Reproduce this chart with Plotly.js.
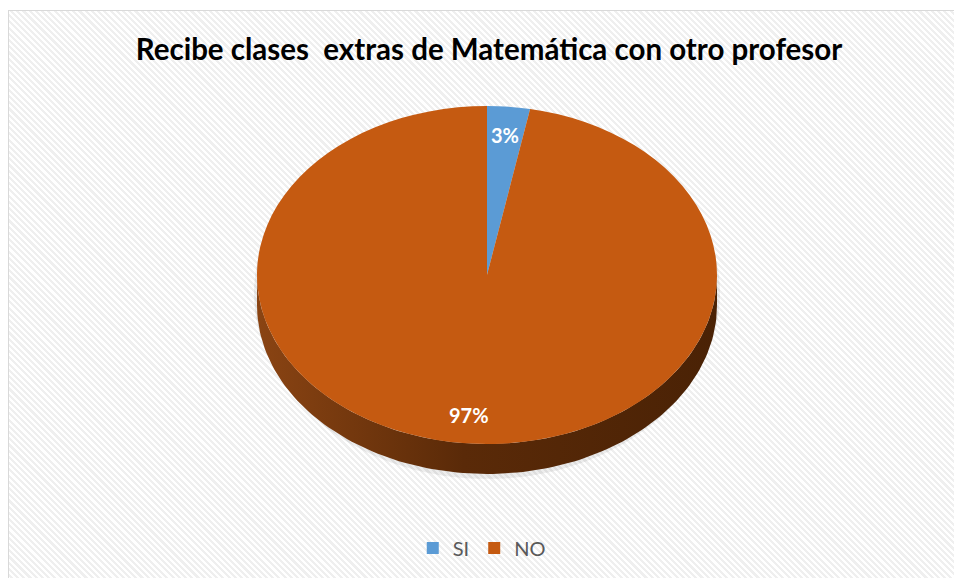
<!DOCTYPE html>
<html>
<head>
<meta charset="utf-8">
<script src="https://cdn.plot.ly/plotly-3.0.1.min.js"></script>
<style>
html,body{margin:0;padding:0;background:#fff;}
#wrap{position:relative;width:954px;height:578px;overflow:hidden;background:#fff;}
#bg{position:absolute;left:8px;top:10px;width:980px;height:600px;
  border-left:1.5px solid #d9d9d9;border-top:1.5px solid #d9d9d9;
  background:repeating-linear-gradient(45deg,#ffffff 0px,#ffffff 2.2px,#efefef 2.2px,#efefef 4.4px);}
#chart{position:absolute;left:0;top:0;width:954px;height:578px;}
</style>
</head>
<body>
<div id="wrap"><div id="bg"></div><div id="chart"></div></div>
<script>
// ---- data ----
const chartTitle = 'Recibe clases \u00a0extras de Matemática con otro profesor';
const categories = ['SI', 'NO'];
const values = [3, 97];
const sliceColors = ['#5B9BD5', '#C55A11'];

// ---- geometry (pixels) ----
const W = 954, H = 578;
const cx = 487, cy = 275, rx = 230, ry = 169, depth = 30;
const k = ry / rx;

const total = values.reduce((a, b) => a + b, 0);

// side band of the 3-D disc
function sidePath() {
  const xs = [], ys = [];
  const n = 120;
  for (let i = 0; i <= n; i++) {
    const t = Math.PI - Math.PI * i / n;
    xs.push(cx + rx * Math.cos(t)); ys.push(cy + ry * Math.sin(t));
  }
  for (let i = 0; i <= n; i++) {
    const t = Math.PI * i / n;
    xs.push(cx + rx * Math.cos(t)); ys.push(cy + depth + ry * Math.sin(t));
  }
  xs.push(xs[0]); ys.push(ys[0]);
  return {xs, ys};
}
function shadowPath() {
  const xs = [], ys = [];
  const n = 160;
  for (let i = 0; i <= n; i++) {
    const t = 2 * Math.PI * i / n;
    xs.push(cx + (rx + 3) * Math.cos(t));
    ys.push(cy + depth / 2 + 3 + (ry + depth / 2 + 2) * Math.sin(t));
  }
  return {xs, ys};
}
const side = sidePath();
const shadow = shadowPath();

// label annotations computed from values
const annotations = [];
let cum = 0;
values.forEach((v, i) => {
  const mid = (cum + v / 2) / total * 2 * Math.PI;
  cum += v;
  annotations.push({
    xref: 'x', yref: 'y',
    x: cx + 0.83 * rx * Math.sin(mid),
    y: cy - 0.83 * ry * Math.cos(mid),
    text: Math.round(v / total * 100) + '%',
    showarrow: false,
    font: {family: 'Lato, "Open Sans", sans-serif', size: 20, color: '#ffffff', weight: 700},
    xanchor: 'center', yanchor: 'middle'
  });
});

const data = [
  {
    type: 'scatter', mode: 'lines', x: shadow.xs, y: shadow.ys,
    fill: 'toself', fillcolor: 'rgba(0,0,0,0.07)', line: {width: 0},
    showlegend: false, hoverinfo: 'skip'
  },
  {
    type: 'scatter', mode: 'lines', x: side.xs, y: side.ys,
    fill: 'toself', line: {width: 0},
    fillgradient: {type: 'horizontal', colorscale: [[0, '#8a4413'], [0.45, '#5a2a08'], [1, '#4a2205']]},
    showlegend: false, hoverinfo: 'skip'
  },
  {
    type: 'pie',
    labels: categories,
    values: values,
    sort: false,
    direction: 'clockwise',
    rotation: 0,
    textinfo: 'none',
    marker: {colors: sliceColors, line: {width: 0}},
    domain: {x: [(cx - rx) / W, (cx + rx) / W], y: [(H - (cy + rx)) / H, (H - (cy - rx)) / H]},
    hoverinfo: 'skip'
  }
];

const layout = {
  width: W, height: H,
  margin: {l: 0, r: 0, t: 0, b: 0},
  paper_bgcolor: 'rgba(0,0,0,0)',
  plot_bgcolor: 'rgba(0,0,0,0)',
  xaxis: {range: [0, W], visible: false, fixedrange: true},
  yaxis: {range: [H, 0], visible: false, fixedrange: true},
  title: {
    text: '<b>' + chartTitle + '</b>',
    x: 489 / W, xanchor: 'center', y: 1 - 50 / H, yanchor: 'middle',
    font: {family: 'Lato, "Open Sans", sans-serif', size: 29.5, color: '#000000'}
  },
  showlegend: true,
  legend: {
    orientation: 'h', x: 0.505, xanchor: 'center', y: (H - 548) / H, yanchor: 'middle',
    font: {family: 'Lato, "Open Sans", sans-serif', size: 20, color: '#595959'},
    bgcolor: 'rgba(0,0,0,0)', itemclick: false, itemwidth: 30
  },
  annotations: annotations
};

Plotly.newPlot('chart', data, layout, {staticPlot: true, displayModeBar: false}).then(gd => {
  gd.querySelectorAll('.pielayer path.surface').forEach(p => {
    p.setAttribute('transform', 'translate(0,' + cy + ') scale(1,' + k + ') translate(0,' + (-cy) + ')');
  });
});
</script>
</body>
</html>
